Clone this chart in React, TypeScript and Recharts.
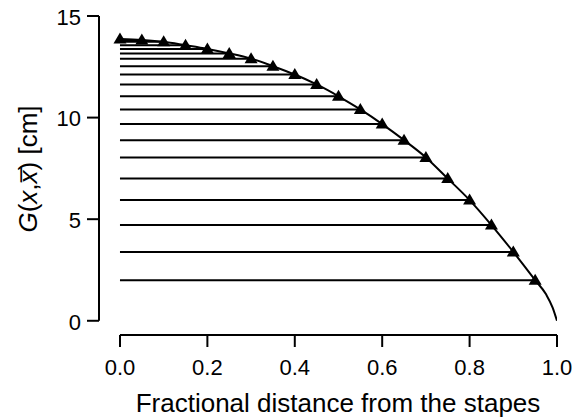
import React from 'react';
import { ComposedChart, Line, Scatter, XAxis, YAxis, ReferenceLine } from 'recharts';

// Fractional positions of the marked points (triangles)
const positions = [0, 0.05, 0.1, 0.15, 0.2, 0.25, 0.3, 0.35, 0.4, 0.45, 0.5, 0.55, 0.6, 0.65, 0.7, 0.75, 0.8, 0.85, 0.9, 0.95];
// G(x, x̄) values in cm at those positions
const gValues = [13.87, 13.82, 13.73, 13.56, 13.38, 13.16, 12.9, 12.53, 12.12, 11.63, 11.05, 10.4, 9.68, 8.89, 8.04, 7.0, 5.94, 4.71, 3.39, 2.0];
// end of the continuous curve beyond the last marker
const tailPositions = [0.975, 0.99, 1.0];
const tailValues = [1.3, 0.65, 0];

const xTicks = [0, 0.2, 0.4, 0.6, 0.8, 1.0];
const yTicks = [0, 5, 10, 15];
const X_MIN = -0.048;
const Y_MIN = -0.7;

const markerData = positions.map((x, i) => ({ x, g: gValues[i] }));
const curveData = [
  ...markerData,
  ...tailPositions.map((x, i) => ({ x, g: tailValues[i] })),
];

const FONT = '"Liberation Sans", Arial, Helvetica, sans-serif';

const Triangle = (props: any) => {
  const { cx, cy } = props;
  if (cx == null || cy == null) return null;
  return (
    <polygon
      points={`${cx},${cy - 6.5} ${cx - 6.5},${cy + 4.5} ${cx + 6.5},${cy + 4.5}`}
      fill="#000"
      stroke="none"
    />
  );
};

export default function App() {
  return (
    <div style={{ width: 576, height: 419, marginTop: -8, fontFamily: FONT }}>
      <ComposedChart
        width={576}
        height={419}
        data={curveData}
        margin={{ top: 16, right: 27, left: 0, bottom: 0 }}
      >
        <XAxis
          type="number"
          dataKey="x"
          domain={[X_MIN, 1]}
          allowDataOverflow
          ticks={xTicks}
          tickFormatter={(v: number) => v.toFixed(1)}
          axisLine={false}
          tickLine={{ stroke: '#000', strokeWidth: 2 }}
          tickSize={12}
          tickMargin={12}
          height={84}
          tick={{ fill: '#000', fontSize: 22, fontFamily: FONT }}
          interval={0}
        />
        <YAxis
          type="number"
          domain={[Y_MIN, 15]}
          allowDataOverflow
          ticks={yTicks}
          axisLine={false}
          tickLine={{ stroke: '#000', strokeWidth: 2 }}
          tickSize={12}
          tickMargin={6}
          width={91}
          tick={{ fill: '#000', fontSize: 22, fontFamily: FONT, dy: 1 }}
          interval={0}
        />
        {/* detached axis lines */}
        <ReferenceLine
          segment={[{ x: X_MIN, y: 0 }, { x: X_MIN, y: 15 }]}
          stroke="#000"
          strokeWidth={2}
          ifOverflow="visible"
        />
        <ReferenceLine
          segment={[{ x: 0, y: Y_MIN }, { x: 1, y: Y_MIN }]}
          stroke="#000"
          strokeWidth={2}
          ifOverflow="visible"
        />
        {markerData.map((d, i) => (
          <ReferenceLine
            key={`h${i}`}
            segment={[{ x: 0, y: d.g }, { x: d.x, y: d.g }]}
            stroke="#000"
            strokeWidth={2}
            ifOverflow="visible"
          />
        ))}
        <Line
          type="monotone"
          dataKey="g"
          stroke="#000"
          strokeWidth={2}
          dot={false}
          activeDot={false}
          isAnimationActive={false}
        />
        <Scatter
          data={markerData}
          dataKey="g"
          shape={<Triangle />}
          isAnimationActive={false}
        />
      </ComposedChart>
      <svg
        width={576}
        height={419}
        style={{ position: 'absolute', left: 8, top: 0, pointerEvents: 'none' }}
      >
        <text
          x={29}
          y={169}
          transform="rotate(-90 29 169)"
          textAnchor="middle"
          fontSize={26}
          fontFamily={FONT}
          fill="#000"
        >
          <tspan fontStyle="italic">G</tspan>
          <tspan>(</tspan>
          <tspan fontStyle="italic">x</tspan>
          <tspan>,</tspan>
          <tspan fontStyle="italic">{'x\u0305'}</tspan>
          <tspan>) [cm]</tspan>
        </text>
        <text
          x={330}
          y={412}
          textAnchor="middle"
          fontSize={26}
          fontFamily={FONT}
          fill="#000"
        >
          Fractional distance from the stapes
        </text>
      </svg>
    </div>
  );
}
